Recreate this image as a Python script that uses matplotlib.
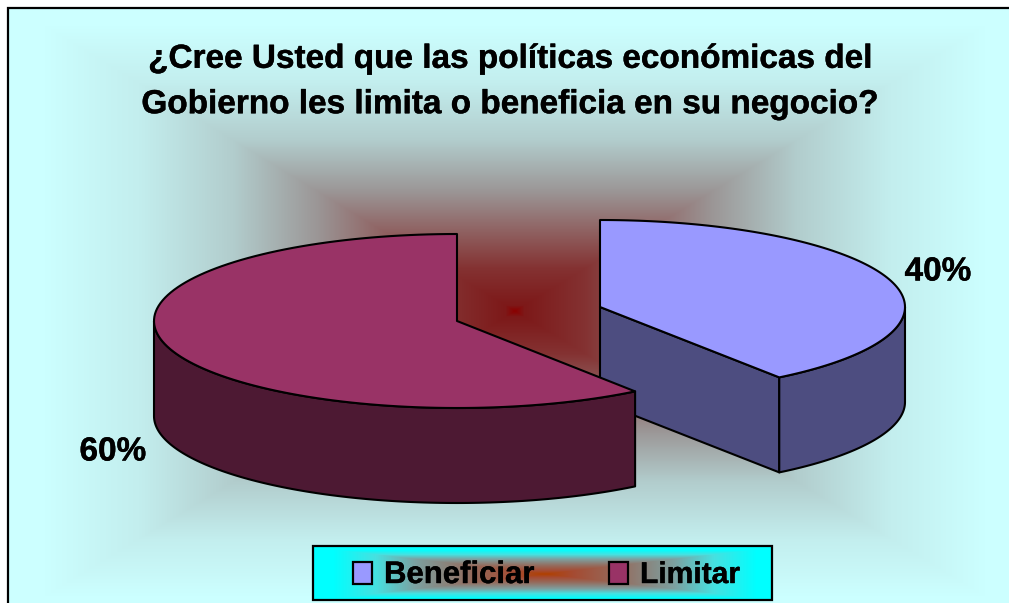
import numpy as np
import matplotlib
matplotlib.use('Agg')
import matplotlib.pyplot as plt
import matplotlib.patheffects as pe
from matplotlib.patches import Polygon, Rectangle

# Data
categories = ['Beneficiar', 'Limitar']
values = [40, 60]
title = '¿Cree Usted que las políticas económicas del\nGobierno les limita o beneficia en su negocio?'

top_colors = ['#9999FF', '#993366']
side_colors = ['#4D4D80', '#4D1933']

W, H = 1009, 603
plt.rcParams['font.family'] = ['Liberation Sans', 'DejaVu Sans']
plt.rcParams['font.weight'] = 'bold'

heavy = [pe.withStroke(linewidth=0.3, foreground='black')]


# Rectangular "path" gradient, as the old Excel chart fills do
def rect_gradient(ax, x0, y0, x1, y1, cx, cy, hw, hh, stops, zorder):
    xs = np.arange(x0, x1) + 0.5
    ys = np.arange(y0, y1) + 0.5
    xx, yy = np.meshgrid(xs, ys)
    d = np.maximum(np.abs(xx - cx) / hw, np.abs(yy - cy) / hh)
    d = np.clip(d, 0, 1)
    pos = [s[0] for s in stops]
    img = np.dstack([np.interp(d, pos, [s[1][i] for s in stops]) for i in range(3)]) / 255
    ax.imshow(img, extent=(x0, x1, y1, y0), interpolation='nearest', aspect='auto', zorder=zorder)


# Points along the rim, angle clockwise from the top of the pie
def rim(cx, cy, a, b, start, stop):
    t = np.radians(np.linspace(start, stop, 120))
    return np.column_stack([cx + a * np.sin(t), cy - b * np.cos(t)])


fig = plt.figure(figsize=(W / 100, H / 100), dpi=100)
ax = fig.add_axes([0, 0, 1, 1])

bg_stops = [
    (0.0, (139, 0, 0)),
    (0.02, (125, 25, 25)),
    (0.15, (132, 50, 50)),
    (0.3, (145, 105, 105)),
    (0.42, (155, 150, 150)),
    (0.6, (178, 205, 205)),
    (0.8, (195, 238, 238)),
    (1.0, (204, 255, 255)),
]
rect_gradient(ax, 8, 8, W, H, 515, 311, 470, 285, bg_stops, 0)

legend_stops = [
    (0.0, (176, 64, 0)),
    (0.12, (165, 75, 50)),
    (0.3, (150, 105, 90)),
    (0.55, (125, 160, 160)),
    (0.72, (70, 225, 225)),
    (0.9, (0, 255, 255)),
    (1.0, (0, 255, 255)),
]
rect_gradient(ax, 313, 546, 772, 600, 545, 574, 235, 27, legend_stops, 5)

ax.set_xlim(0, W)
ax.set_ylim(H, 0)
ax.axis('off')

# Frame (right and bottom sides are cut off in the original)
ax.plot([8, 8, W], [H, 8, 8], color='black', lw=1.6, zorder=1, solid_joinstyle='miter')

# Pie geometry
centers = [(600, 307), (457, 321)]
radii_x = [305, 303]
radius_y = 87
depth = 95

# Cumulative angles from the values, clockwise from the top
angles = np.cumsum([0] + values) / sum(values) * 360

edge = dict(edgecolor='black', lw=1.5, joinstyle='round')

# Blue slice goes first, red one overlaps it
for i in [0, 1]:
    cx, cy = centers[i]
    a = radii_x[i]
    start, stop = angles[i], angles[i + 1]
    top = rim(cx, cy, a, radius_y, start, stop)

    if i == 0:
        # cut face, visible only on this slice
        p_end = top[-1]
        face = [(cx, cy), p_end, (p_end[0], p_end[1] + depth), (cx, cy + depth)]
        ax.add_patch(Polygon(face, closed=True, facecolor=side_colors[i], zorder=2, **edge))
        side = rim(cx, cy, a, radius_y, 90, stop)
    else:
        side = rim(cx, cy, a, radius_y, start, 270)
    wall = np.vstack([side, (side + [0, depth])[::-1]])
    ax.add_patch(Polygon(wall, closed=True, facecolor=side_colors[i], zorder=2 + i * 2, **edge))
    ax.add_patch(Polygon(np.vstack([[cx, cy], top]), closed=True, facecolor=top_colors[i],
                         zorder=3 + i * 2, **edge))

# Slice labels
ax.text(938, 272, f'{values[0]}%', fontsize=24, ha='center', va='center', zorder=6, path_effects=heavy)
ax.text(113, 452, f'{values[1]}%', fontsize=24, ha='center', va='center', zorder=6, path_effects=heavy)

ax.text(511, 82, title, fontsize=24, ha='center', va='center', linespacing=1.6, zorder=6, path_effects=heavy)

# Legend box
ax.add_patch(Rectangle((313, 546), 459, 54, fill=False, edgecolor='black', lw=1.6, zorder=6))
ax.add_patch(Rectangle((353, 562), 19, 22, facecolor=top_colors[0], edgecolor='black', lw=1.6, zorder=6))
ax.add_patch(Rectangle((609, 562), 19, 22, facecolor=top_colors[1], edgecolor='black', lw=1.6, zorder=6))
ax.text(384, 575, categories[0], fontsize=22.4, ha='left', va='center', zorder=7, path_effects=heavy)
ax.text(640, 575, categories[1], fontsize=21.6, ha='left', va='center', zorder=7, path_effects=heavy)

fig.savefig('out.png', dpi=100)
